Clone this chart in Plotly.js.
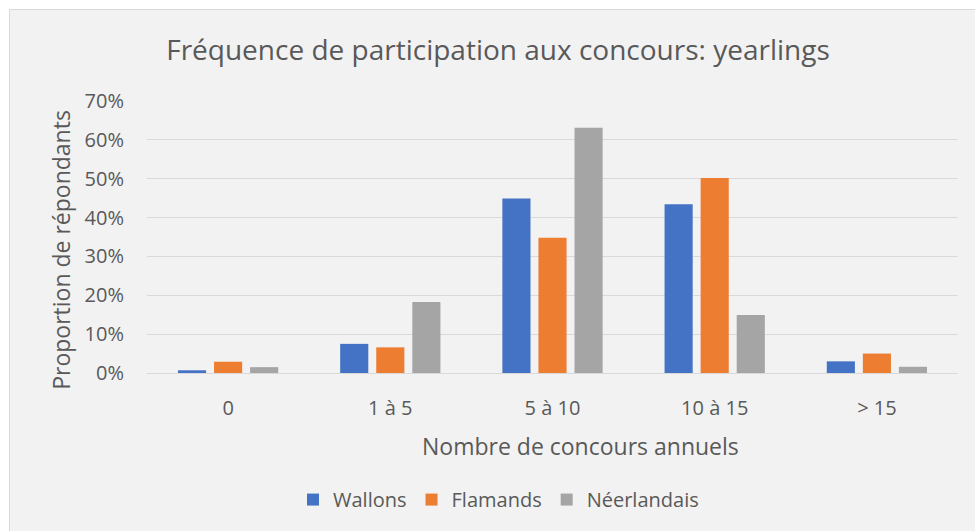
<!DOCTYPE html>
<html>
<head>
<meta charset="utf-8">
<script src="https://cdn.plot.ly/plotly-3.0.1.min.js"></script>
<style>
  html, body { margin: 0; padding: 0; background: #ffffff; }
  #wrap { position: absolute; left: 9px; top: 9px; width: 966px; height: 522px;
          box-sizing: border-box; border-left: 1px solid #d9d9d9; border-top: 1px solid #d9d9d9; }
  #chart { width: 965px; height: 521px; }
</style>
</head>
<body>
<div id="wrap"><div id="chart"></div></div>
<script>
const categories = ['0', '1 à 5', '5 à 10', '10 à 15', '> 15'];
const seriesNames = ['Wallons', 'Flamands', 'Néerlandais'];
const wallons = [0.007, 0.075, 0.449, 0.434, 0.030];
const flamands = [0.029, 0.066, 0.348, 0.502, 0.050];
const neerlandais = [0.015, 0.183, 0.631, 0.149, 0.016];
const colors = ['#4472c4', '#ed7d31', '#a5a5a5'];
const yTicks = [0, 0.1, 0.2, 0.3, 0.4, 0.5, 0.6, 0.7];
const yTickLabels = ['0%', '10%', '20%', '30%', '40%', '50%', '60%', '70%'];

const FONT = '"Open Sans", Lato, sans-serif';
const TXT = '#595959';

const values = [wallons, flamands, neerlandais];
const data = values.map((v, i) => ({
  type: 'bar',
  name: seriesNames[i],
  x: categories,
  y: v,
  marker: { color: colors[i] },
  hoverinfo: 'x+y+name'
}));

const layout = {
  width: 965, height: 521,
  paper_bgcolor: '#f2f2f2',
  plot_bgcolor: '#f2f2f2',
  font: { family: FONT, color: TXT, size: 20 },
  margin: { l: 137, r: 17, t: 91, b: 158 },
  barmode: 'group',
  bargap: 0.333,
  bargroupgap: 0.22,
  title: {
    text: 'Fréquence de participation aux concours: yearlings',
    font: { family: FONT, size: 28, color: TXT },
    xref: 'container', yref: 'container',
    x: 488 / 965, xanchor: 'center',
    y: 1 - 40.5 / 521, yanchor: 'middle'
  },
  xaxis: {
    type: 'category',
    showgrid: false,
    showline: true, linecolor: '#d9d9d9', linewidth: 1,
    ticks: 'outside', ticklen: 17, tickcolor: 'rgba(0,0,0,0)',
    tickfont: { size: 20, color: TXT, family: FONT },
    zeroline: false
  },
  yaxis: {
    range: [0, 0.7],
    tickvals: yTicks,
    ticktext: yTickLabels,
    showgrid: true, gridcolor: '#d9d9d9', gridwidth: 1,
    zeroline: false, showline: false,
    ticks: 'outside', ticklen: 18, tickcolor: 'rgba(0,0,0,0)',
    tickfont: { size: 20, color: TXT, family: FONT }
  },
  showlegend: true,
  legend: {
    orientation: 'h',
    x: (488.5 - 137) / 811, xanchor: 'center',
    y: (363.3 - 490) / 272.3, yanchor: 'middle',
    font: { size: 20, color: TXT, family: FONT },
    bgcolor: 'rgba(0,0,0,0)',
    itemwidth: 30,
    traceorder: 'normal'
  },
  annotations: [
    {
      text: 'Nombre de concours annuels',
      xref: 'paper', yref: 'paper',
      x: (570 - 137) / 811, y: (363.3 - 436) / 272.3,
      xanchor: 'center', yanchor: 'middle',
      showarrow: false,
      font: { size: 23, color: TXT, family: FONT }
    },
    {
      text: 'Proportion de répondants',
      xref: 'paper', yref: 'paper',
      x: (51 - 137) / 811, y: (363.3 - 240) / 272.3,
      xanchor: 'center', yanchor: 'middle',
      textangle: -90,
      showarrow: false,
      font: { size: 23, color: TXT, family: FONT }
    }
  ]
};

Plotly.newPlot('chart', data, layout, { displayModeBar: false });
</script>
</body>
</html>
